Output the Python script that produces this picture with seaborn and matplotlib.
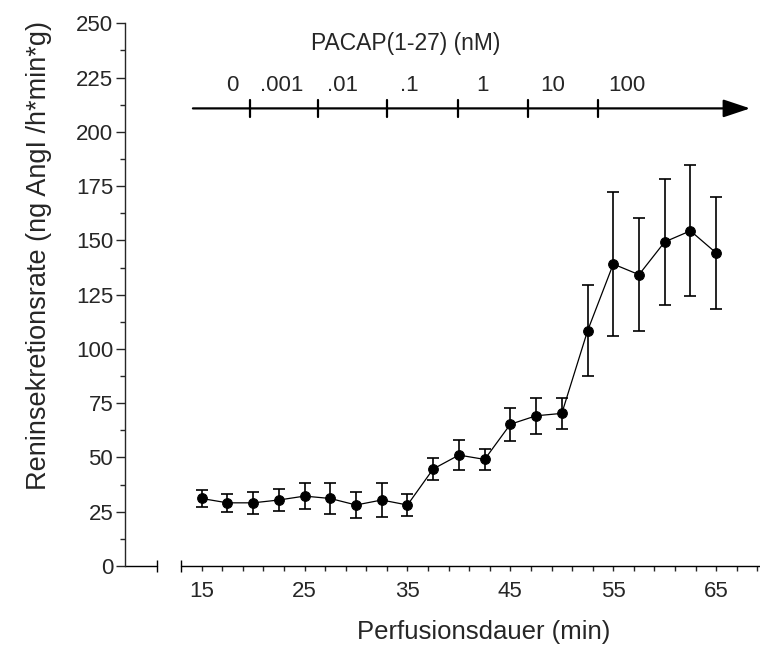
import numpy as np
import pandas as pd
import matplotlib
matplotlib.use("Agg")
import matplotlib.pyplot as plt
import seaborn as sns

# --- DATA ---
time_min = [15, 17.5, 20, 22.5, 25, 27.5, 30, 32.5, 35, 37.5, 40, 42.5,
            45, 47.5, 50, 52.5, 55, 57.5, 60, 62.5, 65]
renin_rate = [31.1, 29.1, 29.1, 30.4, 32.2, 31.1, 28.1, 30.4, 28.1, 44.7, 51.1, 49.1,
              65.3, 69.2, 70.3, 108.3, 139.1, 134.2, 149.3, 154.4, 144.2]
renin_sem = [3.9, 4.0, 5.1, 5.0, 5.9, 7.2, 5.9, 8.0, 5.0, 5.0, 6.8, 5.0,
             7.7, 8.2, 7.0, 21.0, 33.2, 25.9, 29.0, 30.2, 26.0]

dose_labels = ["0", ".001", ".01", ".1", "1", "10", "100"]
dose_label_x = [18.0, 22.8, 28.7, 35.2, 42.3, 49.1, 56.3]
dose_tick_x = [19.7, 26.3, 33.0, 39.9, 46.7, 53.5]

x_major = [15, 25, 35, 45, 55, 65]
x_minor = [17, 19, 21, 23, 27, 29, 31, 33, 37, 39, 41, 43, 47, 49, 51, 53,
           57, 59, 61, 63, 67, 69]

df = pd.DataFrame({"time": time_min, "rate": renin_rate, "sem": renin_sem})

# --- STYLE ---
sns.set_style("ticks")
plt.rcParams["font.family"] = ["Liberation Sans", "DejaVu Sans"]

fig = plt.figure(figsize=(7.6, 6.48), dpi=100)
ax = fig.add_axes([125 / 760, 1 - 566 / 648, 1 - 125 / 760, (566 - 23.3) / 648])

ax.errorbar(df["time"], df["rate"], yerr=df["sem"], fmt="none", ecolor="black",
            elinewidth=1.2, capsize=4, capthick=1.2, zorder=2)
sns.lineplot(data=df, x="time", y="rate", ax=ax, color="black", lw=0.9,
             marker="o", markersize=7, markeredgecolor="black", zorder=3)

ax.set_xlim(7.55, 69.26)
ax.set_ylim(0, 250)

# y axis
ax.set_yticks(np.arange(0, 251, 25))
ax.set_yticks(np.arange(12.5, 250, 25), minor=True)
ax.tick_params(axis="y", which="major", length=6.5, width=1, labelsize=16, pad=2)
ax.tick_params(axis="y", which="minor", length=3.6, width=1)

# broken x axis
ax.spines["bottom"].set_visible(False)
ax.spines["top"].set_visible(False)
ax.spines["right"].set_visible(False)
ax.spines["left"].set_linewidth(1)
ax.plot([7.55, 10.7], [0, 0], color="black", lw=1, clip_on=False)
ax.plot([13, 69.26], [0, 0], color="black", lw=1, clip_on=False)
ax.plot([10.7, 13], [0, 0], ls="none", marker="|", ms=8, mew=1,
        color="black", clip_on=False)

ax.set_xticks(x_major)
ax.set_xticks(x_minor, minor=True)
ax.tick_params(axis="x", which="both", length=3.6, width=1)
ax.tick_params(axis="x", which="major", labelsize=16, pad=7)

ax.set_xlabel("")
ax.set_ylabel("")

# dose arrow on top
arrow_y = 210.8
ax.annotate("", xy=(68.3, arrow_y), xytext=(14.15, arrow_y),
            arrowprops=dict(arrowstyle="-|>,head_length=1.65,head_width=0.55",
                            mutation_scale=10, lw=1.6, color="black",
                            shrinkA=0, shrinkB=0))
for tx in dose_tick_x:
    ax.plot([tx, tx], [arrow_y - 3.8, arrow_y + 3.8], color="black", lw=1.6)
for lab, lx in zip(dose_labels, dose_label_x):
    ax.text(lx, 221.5, lab, ha="center", va="center", fontsize=16)
ax.text(34.8, 240.5, "PACAP(1-27) (nM)", ha="center", va="center", fontsize=16.5)

fig.text(484 / 760, 1 - 632 / 648, "Perfusionsdauer (min)", ha="center",
         va="center", fontsize=18.5)
fig.text(39.5 / 760, 1 - 255 / 648, "Reninsekretionsrate (ng AngI /h*min*g)",
         ha="center", va="center", rotation=90, fontsize=19.5,
         family=["Liberation Sans Narrow", "Liberation Sans", "DejaVu Sans"])

fig.savefig("out.png", dpi=100)
